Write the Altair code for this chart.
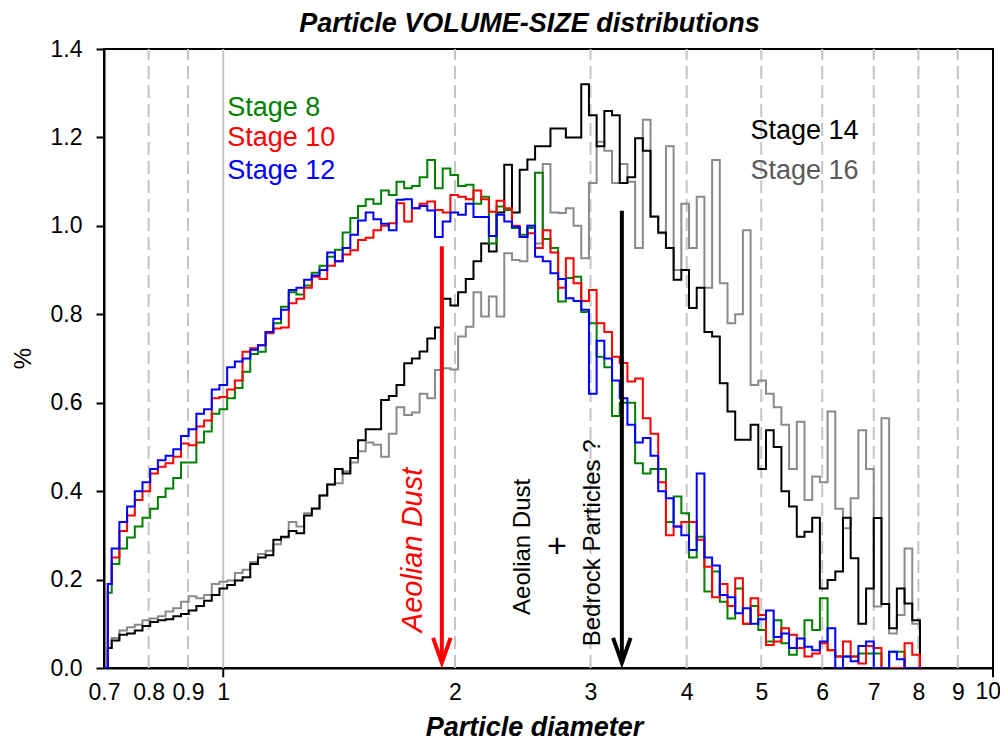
import altair as alt
import pandas as pd

FONT = "Liberation Sans"

# ---------------- data ----------------
NAMES = ["Stage 16", "Stage 14", "Stage 8", "Stage 10", "Stage 12"]
LINE_COLORS = ["#8a8a8a", "#000000", "#008000", "#ff0000", "#0000ff"]

# logarithmic size-class edges (particle diameter)
BIN_EDGES = [0.708] + [round(0.7 * 10 ** (0.01 * i), 5) for i in range(1, 107)]

STAGE_8 = [0.17, 0.235, 0.27, 0.295, 0.32, 0.34, 0.36, 0.387, 0.406, 0.43,
           0.465, 0.465, 0.51, 0.535, 0.575, 0.585, 0.61, 0.633, 0.67, 0.71,
           0.715, 0.76, 0.78, 0.817, 0.85, 0.845, 0.865, 0.894, 0.91, 0.93,
           0.946, 0.985, 1.018, 1.045, 1.06, 1.05, 1.08, 1.07, 1.10, 1.085,
           1.09, 1.11, 1.149, 1.085, 1.13, 1.115, 1.09, 1.093, 1.05, 1.066,
           0.96, 1.044, 1.036, 0.995, 0.98, 0.995, 1.12, 0.97, 0.95, 0.829,
           0.882, 0.885, 0.805, 0.78, 0.704, 0.68, 0.57, 0.60, 0.60, 0.463,
           0.44, 0.45, 0.45, 0.33, 0.388, 0.35, 0.25, 0.297, 0.173, 0.218,
           0.15, 0.112, 0.18, 0.10, 0.14, 0.086, 0.06, 0.108, 0.056, 0.03,
           0.045, 0.108, 0.086, 0.158, 0.04, 0.026, 0.026, 0.026, 0.033, 0.033,
           0.033, 0.0, 0.037, 0.037, 0.0, 0.0]

STAGE_10 = [0.19, 0.25, 0.31, 0.345, 0.38, 0.40, 0.44, 0.455, 0.463, 0.478,
            0.508, 0.504, 0.546, 0.56, 0.61, 0.613, 0.63, 0.65, 0.715, 0.723,
            0.73, 0.757, 0.768, 0.77, 0.825, 0.835, 0.86, 0.885, 0.88, 0.91,
            0.92, 0.935, 0.945, 0.968, 0.973, 0.99, 1.0, 1.006, 1.051, 1.01,
            1.04, 1.05, 1.055, 1.036, 1.03, 1.07, 1.066, 1.06, 1.08, 1.06,
            1.032, 1.057, 1.04, 1.0, 0.975, 0.983, 0.95, 0.99, 0.94, 0.86,
            0.927, 0.87, 0.83, 0.855, 0.78, 0.76, 0.704, 0.69, 0.648, 0.655,
            0.565, 0.53, 0.42, 0.30, 0.32, 0.33, 0.33, 0.29, 0.229, 0.16,
            0.19, 0.14, 0.203, 0.10, 0.158, 0.12, 0.052, 0.06, 0.09, 0.075,
            0.045, 0.026, 0.033, 0.056, 0.04, 0.026, 0.06, 0.026, 0.01, 0.05,
            0.045, 0.0, 0.0, 0.0, 0.056, 0.03]

STAGE_12 = [0.19, 0.27, 0.33, 0.365, 0.40, 0.42, 0.45, 0.47, 0.48, 0.495,
            0.525, 0.54, 0.575, 0.585, 0.63, 0.64, 0.68, 0.693, 0.70, 0.72,
            0.73, 0.76, 0.79, 0.81, 0.855, 0.86, 0.878, 0.888, 0.90, 0.94,
            0.92, 0.95, 0.98, 1.012, 1.03, 1.015, 1.005, 0.99, 1.059, 1.06,
            1.04, 1.045, 1.035, 0.975, 1.01, 1.03, 1.025, 1.05, 1.02, 1.02,
            0.977, 1.025, 1.01, 0.998, 0.975, 1.0, 0.93, 0.92, 0.893, 0.88,
            0.836, 0.83, 0.81, 0.62, 0.74, 0.70, 0.65, 0.61, 0.55, 0.51,
            0.52, 0.48, 0.40, 0.384, 0.32, 0.30, 0.267, 0.44, 0.25, 0.232,
            0.165, 0.16, 0.124, 0.135, 0.10, 0.11, 0.13, 0.07, 0.078, 0.045,
            0.067, 0.048, 0.04, 0.06, 0.09, 0.0, 0.026, 0.015, 0.05, 0.06,
            0.0, 0.0, 0.037, 0.02, 0.0, 0.0]

STAGE_14 = [0.045, 0.062, 0.075, 0.078, 0.085, 0.095, 0.104, 0.108, 0.11, 0.117,
            0.122, 0.13, 0.14, 0.152, 0.165, 0.18, 0.188, 0.198, 0.205, 0.235,
            0.25, 0.255, 0.29, 0.297, 0.31, 0.305, 0.345, 0.361, 0.39, 0.415,
            0.45, 0.44, 0.475, 0.515, 0.54, 0.54, 0.606, 0.615, 0.64, 0.689,
            0.70, 0.716, 0.745, 0.77, 0.835, 0.82, 0.85, 0.88, 0.92, 0.96,
            0.942, 1.03, 1.138, 1.03, 1.127, 1.15, 1.18, 1.18, 1.22, 1.22,
            1.20, 1.20, 1.32, 1.25, 1.18, 1.26, 1.25, 1.097, 1.11, 1.198,
            1.17, 1.021, 0.985, 0.95, 0.878, 0.90, 0.814, 0.86, 0.76, 0.75,
            0.644, 0.58, 0.516, 0.516, 0.55, 0.45, 0.538, 0.50, 0.40, 0.365,
            0.297, 0.308, 0.34, 0.18, 0.199, 0.218, 0.34, 0.248, 0.10, 0.18,
            0.339, 0.145, 0.09, 0.18, 0.146, 0.108]

STAGE_16 = [0.045, 0.068, 0.085, 0.092, 0.098, 0.108, 0.112, 0.117, 0.128, 0.135,
            0.15, 0.162, 0.158, 0.165, 0.19, 0.195, 0.198, 0.215, 0.222, 0.24,
            0.258, 0.265, 0.28, 0.295, 0.33, 0.32, 0.35, 0.36, 0.39, 0.415,
            0.418, 0.445, 0.465, 0.49, 0.51, 0.505, 0.478, 0.53, 0.59, 0.572,
            0.578, 0.62, 0.61, 0.674, 0.678, 0.675, 0.75, 0.772, 0.85, 0.795,
            0.84, 0.795, 0.938, 0.923, 0.92, 1.0, 0.96, 1.14, 1.03, 1.029,
            1.04, 1.0, 0.927, 1.097, 1.19, 1.17, 1.097, 1.14, 1.10, 0.95,
            1.24, 1.02, 0.983, 1.18, 0.90, 1.05, 0.95, 1.066, 0.86, 1.149,
            0.87, 0.78, 0.80, 0.99, 0.64, 0.65, 0.62, 0.59, 0.55, 0.45,
            0.557, 0.38, 0.433, 0.42, 0.58, 0.36, 0.316, 0.384, 0.538, 0.45,
            0.139, 0.565, 0.078, 0.12, 0.27, 0.10]

SERIES = [STAGE_16, STAGE_14, STAGE_8, STAGE_10, STAGE_12]

X_LABELS = [0.7, 0.8, 0.9, 1, 2, 3, 4, 5, 6, 7, 8, 9]
X_LAST_LABEL = [10]
X_MAJOR_TICKS = [1, 10]
GRID_DASHED = [0.8, 0.9, 2, 3, 4, 5, 6, 7, 8, 9]
GRID_SOLID = [1]
Y_TICKS = [0.0, 0.2, 0.4, 0.6, 0.8, 1.0, 1.2, 1.4]

TITLE_TEXT = ["Particle VOLUME-SIZE distributions"]
TITLE_D = [2.499]
TITLE_V = [1.439]

LEGEND_TEXT = ["Stage 8", "Stage 10", "Stage 12", "Stage 14", "Stage 16"]
LEGEND_D = [1.012, 1.012, 1.012, 4.84, 4.84]
LEGEND_V = [1.249, 1.18, 1.107, 1.196, 1.107]
LEGEND_COLOR = ["#008000", "#ff0000", "#0000ff", "#000000", "#5a5a5a"]

ARROW_D = [1.923, 3.295]
ARROW_TOP = [0.954, 1.034]
ARROW_BOTTOM = [0.015, 0.015]
ARROW_HEAD = [0.040, 0.040]
ARROW_COLOR = ["#ff0000", "#000000"]

NOTE_TEXT = ["Aeolian Dust", "Aeolian Dust", "+", "Bedrock Particles ?"]
NOTE_D = [1.764, 2.454, 2.713, 3.021]
NOTE_V = [0.267, 0.274, 0.274, 0.283]

# ---------------- scales / axes ----------------
x_scale = alt.Scale(type="log", domain=[0.7, 10], nice=False)
y_scale = alt.Scale(domain=[0, 1.4], nice=False, zero=False)

x_axis = alt.Axis(
    values=X_LABELS, format="~g", title="Particle diameter", orient="bottom",
    labelFont=FONT, labelFontSize=23, labelColor="black", labelPadding=13,
    labelFlush=False, labelOverlap=False, ticks=False, grid=False,
    domainColor="black", domainWidth=2,
    titleFont=FONT, titleFontSize=27, titleFontStyle="italic", titleFontWeight="bold",
    titleColor="black", titleX=430, titleY=67, titleAlign="center", titleBaseline="alphabetic",
)
y_axis = alt.Axis(
    values=Y_TICKS, format=".1f", title="%", orient="left",
    labelFont=FONT, labelFontSize=23, labelColor="black", labelPadding=14,
    tickSize=8, tickWidth=2, tickColor="black",
    domainColor="black", domainWidth=2, grid=False,
    titleFont=FONT, titleFontSize=24, titleFontWeight="normal", titleColor="black",
    titleAngle=270, titleX=-81, titleY=309, titleAlign="center", titleBaseline="middle",
)

X = lambda f: alt.X(f, scale=x_scale, axis=x_axis)
Y = lambda f: alt.Y(f, scale=y_scale, axis=y_axis)

# ---------------- layers ----------------
layers = []

grid_dashed = pd.DataFrame({"d": GRID_DASHED, "v": [0.0] * len(GRID_DASHED), "v2": [1.4] * len(GRID_DASHED)})
layers.append(
    alt.Chart(grid_dashed).mark_rule(color="#c4c4c4", strokeWidth=2, strokeDash=[13, 6]).encode(
        x=X("d:Q"), y=Y("v:Q"), y2="v2:Q")
)
grid_solid = pd.DataFrame({"d": GRID_SOLID, "v": [0.0], "v2": [1.4]})
layers.append(
    alt.Chart(grid_solid).mark_rule(color="#c4c4c4", strokeWidth=2).encode(
        x=X("d:Q"), y=Y("v:Q"), y2="v2:Q")
)
# major tick marks at decades (below the axis line)
major = pd.DataFrame({"d": X_MAJOR_TICKS, "v": [0.0, 0.0], "v2": [-0.021, -0.021]})
layers.append(
    alt.Chart(major).mark_rule(color="black", strokeWidth=2, clip=False).encode(
        x=X("d:Q"), y=Y("v:Q"), y2="v2:Q")
)
# last tick label (kept inside the canvas)
last_label = pd.DataFrame({"t": ["10"], "d": X_LAST_LABEL, "v": [-0.0294]})
layers.append(
    alt.Chart(last_label).mark_text(align="right", baseline="top", dx=8, font=FONT,
                                    fontSize=23, color="black", clip=False).encode(
        x=X("d:Q"), y=Y("v:Q"), text="t:N")
)


def series_frame(vals):
    rows = [{"d": 0.7, "v": 0.0, "k": -1}]
    for i, v in enumerate(vals):
        rows.append({"d": BIN_EDGES[i], "v": v, "k": i})
    rows.append({"d": BIN_EDGES[len(vals)], "v": 0.0, "k": len(vals)})
    return pd.DataFrame(rows)


for name, vals, col in zip(NAMES, SERIES, LINE_COLORS):
    layers.append(
        alt.Chart(series_frame(vals)).mark_line(
            interpolate="step-after", strokeWidth=2, color=col, clip=True
        ).encode(x=X("d:Q"), y=Y("v:Q"), order=alt.Order("k:Q"))
    )

arrows = pd.DataFrame({"d": ARROW_D, "v": ARROW_TOP, "v2": ARROW_BOTTOM,
                       "h": ARROW_HEAD, "c": ARROW_COLOR})
layers.append(
    alt.Chart(arrows).mark_rule(strokeWidth=4).encode(
        x=X("d:Q"), y=Y("v:Q"), y2="v2:Q", color=alt.Color("c:N", scale=None))
)
layers.append(
    alt.Chart(arrows).mark_point(shape="M -0.7 -1 L 0 1 L 0.7 -1", filled=False, size=625,
                                 strokeWidth=4, strokeJoin="miter", opacity=1).encode(
        x=X("d:Q"), y=Y("h:Q"), color=alt.Color("c:N", scale=None))
)

legend = pd.DataFrame({"t": LEGEND_TEXT, "d": LEGEND_D, "v": LEGEND_V, "c": LEGEND_COLOR})
layers.append(
    alt.Chart(legend).mark_text(align="left", baseline="alphabetic", font=FONT, fontSize=27).encode(
        x=X("d:Q"), y=Y("v:Q"), text="t:N", color=alt.Color("c:N", scale=None))
)

red_note = pd.DataFrame({"t": NOTE_TEXT[:1], "d": NOTE_D[:1], "v": NOTE_V[:1]})
layers.append(
    alt.Chart(red_note).mark_text(angle=270, align="center", baseline="middle", font=FONT,
                                  fontSize=29, fontStyle="italic", color="#ff0000").encode(
        x=X("d:Q"), y=Y("v:Q"), text="t:N")
)
black_note = pd.DataFrame({"t": [NOTE_TEXT[1], NOTE_TEXT[3]], "d": [NOTE_D[1], NOTE_D[3]],
                           "v": [NOTE_V[1], NOTE_V[3]]})
layers.append(
    alt.Chart(black_note).mark_text(angle=270, align="center", baseline="middle", font=FONT,
                                    fontSize=24, color="black").encode(
        x=X("d:Q"), y=Y("v:Q"), text="t:N")
)
plus_note = pd.DataFrame({"t": [NOTE_TEXT[2]], "d": [NOTE_D[2]], "v": [NOTE_V[2]]})
layers.append(
    alt.Chart(plus_note).mark_text(align="center", baseline="middle", font=FONT,
                                   fontSize=34, color="black").encode(
        x=X("d:Q"), y=Y("v:Q"), text="t:N")
)

# chart title (placed above the plot frame)
title_df = pd.DataFrame({"t": TITLE_TEXT, "d": TITLE_D, "v": TITLE_V})
layers.append(
    alt.Chart(title_df).mark_text(align="center", baseline="alphabetic", font=FONT, fontSize=27,
                                  fontStyle="italic", fontWeight="bold", color="black",
                                  clip=False).encode(
        x=X("d:Q"), y=Y("v:Q"), text="t:N")
)

chart = alt.layer(*layers).properties(
    width=889,
    height=619,
    background="white",
    autosize=alt.AutoSizeParams(type="none"),
    padding={"left": 96, "top": 41, "right": 7, "bottom": 73},
).configure_view(stroke="black", strokeWidth=2)

chart.save("out.html", embed_options={"renderer": "svg", "actions": False})
